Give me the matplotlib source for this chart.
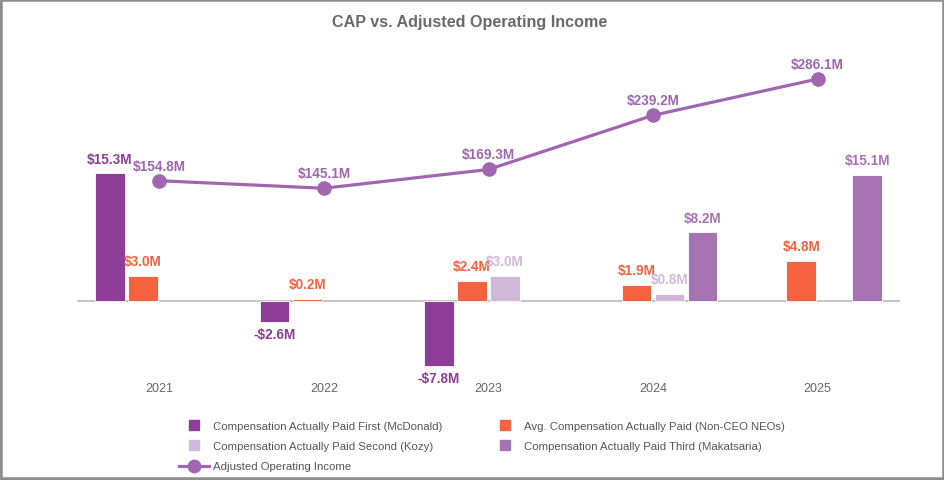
import matplotlib
matplotlib.use('Agg')
import matplotlib.pyplot as plt
import numpy as np
from matplotlib.lines import Line2D
from matplotlib.patches import Rectangle

# ---------------- data ----------------
years = ['2021', '2022', '2023', '2024', '2025']
cap_first = [15.3, -2.6, -7.8, None, None]      # McDonald
avg_neo = [3.0, 0.2, 2.4, 1.9, 4.8]             # Non-CEO NEOs
cap_second = [None, None, 3.0, 0.8, None]       # Kozy
cap_third = [None, None, None, 8.2, 15.1]       # Makatsaria
aoi = [154.8, 145.1, 169.3, 239.2, 286.1]       # Adjusted Operating Income

series_names = ['Compensation Actually Paid First (McDonald)',
                'Avg. Compensation Actually Paid (Non-CEO NEOs)',
                'Compensation Actually Paid Second (Kozy)',
                'Compensation Actually Paid Third (Makatsaria)']
line_name = 'Adjusted Operating Income'
title = 'CAP vs. Adjusted Operating Income'

# ---------------- style ----------------
c_first = '#8E3E98'
c_avg = '#F4623F'
c_second = '#D1B8DB'
c_third = '#A674B3'
c_line = '#A066B0'
c_tick = '#666666'
c_title = '#6A6A6A'

plt.rcParams['font.family'] = ['Liberation Sans', 'DejaVu Sans']

W, H = 945, 481
fig = plt.figure(figsize=(W / 100, H / 100), dpi=100)
fig.patch.set_facecolor('white')

ax_l, ax_r, ax_t, ax_b = 77, 900, 50, 378
ax = fig.add_axes([ax_l / W, 1 - ax_b / H, (ax_r - ax_l) / W, (ax_b - ax_t) / H])
ax2 = ax.twinx()

x = np.arange(len(years))
pitch = 0.2
bw = 0.18
series = [cap_first, avg_neo, cap_second, cap_third]
colors = [c_first, c_avg, c_second, c_third]
offsets = [-1.5, -0.5, 0.5, 1.5]

lab_font = dict(fontsize=9.8, fontweight='bold')
for si, (vals, col, off) in enumerate(zip(series, colors, offsets)):
    xs = [xi + off * pitch for xi, v in zip(x, vals) if v is not None]
    vs = [v for v in vals if v is not None]
    bars = ax.bar(xs, vs, width=bw, color=col, edgecolor='white', linewidth=0.6, zorder=3 + si)
    for b, v in zip(bars, vs):
        cx = b.get_x() + b.get_width() / 2
        if v >= 0:
            ax.annotate(f'${v:.1f}M', (cx, v), xytext=(0, 10.5), textcoords='offset points',
                        ha='center', va='center', color=col, zorder=2.5 + si, **lab_font)
        else:
            ax.annotate(f'-${abs(v):.1f}M', (cx, v), xytext=(0, -8.6), textcoords='offset points',
                        ha='center', va='center', color=col, zorder=2.5 + si, **lab_font)

ax.axhline(0, color='#C4C4C4', lw=1.4, zorder=2)

zero_px = 301.7
bar_scale = 8.33
line_scale = 0.775
ax.set_ylim(-(ax_b - zero_px) / bar_scale, (zero_px - ax_t) / bar_scale)
ax2.set_ylim(-(ax_b - zero_px) / line_scale, (zero_px - ax_t) / line_scale)
ax.set_xlim(-0.5, 4.5)

ax2.plot(x, aoi, color=c_line, lw=2.3, marker='o', markersize=9.5, zorder=10)
for xi, v in zip(x, aoi):
    ax2.annotate(f'${v:.1f}M', (xi, v), xytext=(0, 10.8), textcoords='offset points',
                 ha='center', va='center', color=c_line, **lab_font)

for a in (ax, ax2):
    for s in a.spines.values():
        s.set_visible(False)
    a.set_yticks([])
ax.set_xticks(x)
ax.set_xticklabels(years)
ax.tick_params(axis='x', length=0, pad=3.5, colors=c_tick, labelsize=9)
ax2.set_zorder(ax.get_zorder() + 1)
ax2.patch.set_visible(False)

# title
fig.text(470 / W, 1 - 22 / H, title, ha='center', va='center', color=c_title,
         fontsize=11.6, fontweight='bold',
         family=['Liberation Sans Narrow', 'Liberation Sans'])

# legend
def sq(c):
    return Line2D([], [], linestyle='none', marker='s', markersize=7.5, color=c)

h_first, h_avg, h_second, h_third = [sq(c) for c in colors]
h_line = Line2D([], [], color=c_line, lw=2.3, marker='o', markersize=9)
leg_kw = dict(frameon=False, fontsize=8.2, handlelength=2.6, handletextpad=0.35,
              labelspacing=0.9, borderpad=0, borderaxespad=0, loc='upper left',
              labelcolor='#555555')
leg1 = fig.legend([h_first, h_second, h_line], [series_names[0], series_names[2], line_name],
                  bbox_to_anchor=(179 / W, 1 - 422 / H), **leg_kw)
leg2 = fig.legend([h_avg, h_third], [series_names[1], series_names[3]],
                  bbox_to_anchor=(490 / W, 1 - 422 / H), **leg_kw)

# border
fig.add_artist(Rectangle((0, 0), 1, 1, transform=fig.transFigure, fill=False,
                         ec='#8E8E8E', lw=4))

fig.savefig('out.png', dpi=100, facecolor='white')
